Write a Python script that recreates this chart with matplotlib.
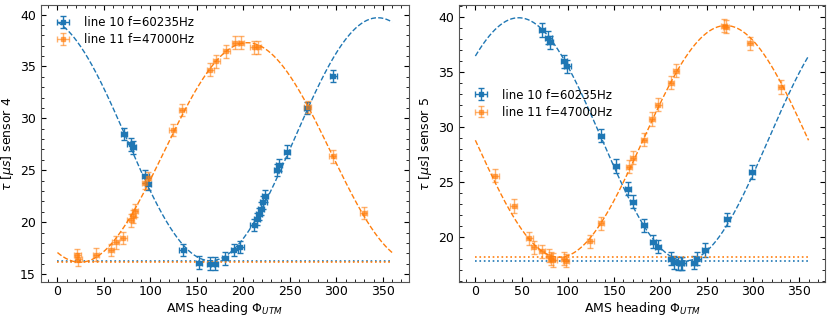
import numpy as np
import matplotlib
matplotlib.use("Agg")
import matplotlib.pyplot as plt
from matplotlib.ticker import AutoMinorLocator

# sensor 4
s4_l10_phi = [71.6, 78.7, 81.2, 94.6, 97.5, 134.7, 152.0, 164.5, 169.0, 180.4,
              190.4, 196.8, 211.0, 214.5, 217.0, 218.8, 221.6, 223.4, 236.5, 238.3,
              247.0, 268.4, 296.8]
s4_l10_tau = [28.47, 27.5, 27.2, 24.4, 23.7, 17.3, 16.1, 16.0, 16.0, 16.5,
              17.3, 17.6, 19.7, 20.3, 20.8, 21.3, 21.9, 22.5, 25.0, 25.5,
              26.8, 31.0, 34.1]
s4_l11_phi = [21.3, 22.5, 41.4, 57.4, 62.7, 70.9, 78.7, 81.2, 83.3, 94.6,
              97.5, 123.8, 134.4, 164.5, 170.9, 181.6, 191.5, 197.5, 211.0, 215.2,
              269.1, 296.0, 329.4]
s4_l11_tau = [16.8, 16.4, 16.88, 17.29, 18.04, 18.45, 20.17, 20.55, 21.1, 23.77,
              24.24, 28.9, 30.8, 34.7, 35.5, 36.46, 37.3, 37.3, 36.84, 36.84,
              31.07, 26.34, 20.9]

# sensor 5
s5_l10_phi = [71.9, 79.0, 80.9, 95.7, 99.3, 135.5, 151.9, 165.0, 170.4, 182.2,
              192.0, 197.3, 211.4, 214.9, 218.5, 222.0, 223.8, 236.3, 239.8, 248.0,
              271.8, 299.2]
s5_l10_tau = [38.8, 38.1, 37.7, 35.96, 35.5, 29.2, 26.44, 24.37, 23.2, 21.07,
              19.57, 19.12, 18.0, 17.7, 17.6, 17.6, 17.6, 17.67, 18.0, 18.8,
              21.58, 25.9]
s5_l11_phi = [21.7, 41.3, 58.3, 63.7, 71.9, 79.7, 82.2, 84.3, 95.7, 98.2,
              124.2, 135.5, 166.1, 170.4, 182.1, 191.0, 197.8, 211.3, 216.6, 268.9,
              270.7, 296.7, 330.5]
s5_l11_tau = [25.57, 22.8, 19.88, 19.04, 18.68, 18.3, 18.0, 17.9, 18.0, 17.85,
              19.58, 21.23, 26.38, 27.19, 28.83, 30.72, 32.0, 34.0, 35.12, 39.19,
              39.1, 37.6, 33.62]

phi_err = 3.5
tau_err = 0.6

labels = ["line 10 f=60235Hz", "line 11 f=47000Hz"]
sensors = ["sensor 4", "sensor 5"]
data = [
    [(s4_l10_phi, s4_l10_tau), (s4_l11_phi, s4_l11_tau)],
    [(s5_l10_phi, s5_l10_tau), (s5_l11_phi, s5_l11_tau)],
]


def fit_sine(phi, tau):
    # least squares: a + b cos + c sin
    p = np.radians(phi)
    A = np.column_stack([np.ones_like(p), np.cos(p), np.sin(p)])
    coef, *_ = np.linalg.lstsq(A, np.asarray(tau), rcond=None)
    return coef


plt.rcParams["font.size"] = 9
plt.rcParams["axes.edgecolor"] = "#555555"

fig = plt.figure(figsize=(8.31, 3.21), dpi=100)
ax1 = fig.add_axes([0.049, 0.12, 0.443, 0.864])
ax2 = fig.add_axes([0.552, 0.12, 0.441, 0.864])

phi_fine = np.linspace(0, 360, 361)
for ax, sensor, sets in zip([ax1, ax2], sensors, data):
    for i, (phi, tau) in enumerate(sets):
        color = "C%d" % i
        alpha = 1.0 if i == 0 else 0.6
        ax.errorbar(phi, tau, xerr=phi_err, yerr=tau_err, fmt="s", ms=2.5,
                    color=color, capsize=2.5, elinewidth=1, alpha=alpha,
                    label=labels[i])
        a, b, c = fit_sine(phi, tau)
        p = np.radians(phi_fine)
        curve = a + b * np.cos(p) + c * np.sin(p)
        ax.plot(phi_fine, curve, "--", color=color, lw=1)
        ax.hlines(curve.min(), 0, 360, colors=color, linestyles=":", lw=1.2)
    ax.set_xlabel(r"AMS heading $\Phi_{UTM}$", labelpad=1.5)
    ax.set_ylabel(r"$\tau$ [$\mu s$] " + sensor, labelpad=3)
    ax.tick_params(which="both", direction="in", top=True, right=True)
    ax.tick_params(axis="x", pad=2)
    ax.xaxis.set_minor_locator(AutoMinorLocator(5))
    ax.yaxis.set_minor_locator(AutoMinorLocator(5))
    ax.set_xticks([0, 50, 100, 150, 200, 250, 300, 350])

ax1.legend(loc="upper left", frameon=False, fontsize=8.5, labelspacing=0.35)
ax2.legend(loc="center left", bbox_to_anchor=(0.0, 0.645), frameon=False,
           fontsize=8.5, labelspacing=0.35)

fig.savefig("out.png", dpi=100)
